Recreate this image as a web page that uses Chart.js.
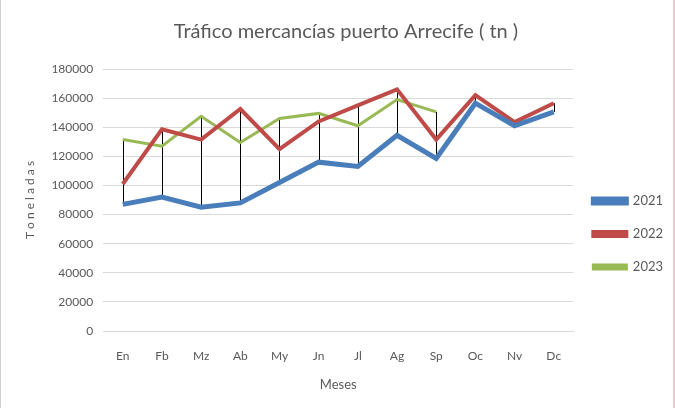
<!DOCTYPE html>
<html>
<head>
<meta charset="utf-8">
<script src="https://cdn.jsdelivr.net/npm/chart.js@4/dist/chart.umd.min.js"></script>
<style>
  html, body { margin: 0; padding: 0; background: #fff; }
  #wrap { position: relative; width: 675px; height: 408px; box-sizing: border-box;
          border-left: 1px solid #d0d0d0; border-right: 2px solid #e8c8c8; }
</style>
</head>
<body>
<div id="wrap"><canvas id="chart" width="672" height="408"></canvas></div>
<script>
var meses = ['En', 'Fb', 'Mz', 'Ab', 'My', 'Jn', 'Jl', 'Ag', 'Sp', 'Oc', 'Nv', 'Dc'];
var datos2021 = [87000, 92000, 85000, 88000, 102000, 116000, 113000, 134500, 118500, 156500, 141000, 150500];
var datos2022 = [101000, 138500, 131500, 152500, 125000, 144000, 155000, 166000, 131500, 162000, 143500, 156500];
var datos2023 = [131500, 127000, 147500, 129500, 146000, 149500, 141000, 159000, 150500, null, null, null];

var fontFam = "'Lato', sans-serif";
var gris = '#595959';

// lineas verticales max-min en cada mes (como en Excel)
var highLow = {
  id: 'highLow',
  beforeDatasetsDraw: function(chart) {
    var ctx = chart.ctx;
    var x = chart.scales.x, y = chart.scales.y;
    ctx.save();
    ctx.strokeStyle = '#000';
    ctx.lineWidth = 1;
    for (var i = 0; i < meses.length; i++) {
      var vals = chart.data.datasets.map(function(d) { return d.data[i]; })
        .filter(function(v) { return v !== null; });
      var px = Math.round(x.getPixelForValue(i)) + 0.5;
      ctx.beginPath();
      ctx.moveTo(px, y.getPixelForValue(Math.max.apply(null, vals)));
      ctx.lineTo(px, y.getPixelForValue(Math.min.apply(null, vals)));
      ctx.stroke();
    }
    ctx.restore();
  }
};

new Chart(document.getElementById('chart'), {
  type: 'line',
  data: {
    labels: meses,
    datasets: [
      { label: '2021', data: datos2021, borderColor: '#4a7ebb', backgroundColor: '#4a7ebb', borderWidth: 5, pointRadius: 0, tension: 0 },
      { label: '2022', data: datos2022, borderColor: '#be4b48', backgroundColor: '#be4b48', borderWidth: 4, pointRadius: 0, tension: 0 },
      { label: '2023', data: datos2023, borderColor: '#98b954', backgroundColor: '#98b954', borderWidth: 3, pointRadius: 0, tension: 0 }
    ]
  },
  options: {
    responsive: false,
    animation: false,
    layout: { padding: { left: 18, right: 0, top: 16, bottom: 11 } },
    plugins: {
      title: {
        display: true,
        text: 'Tráfico mercancías puerto Arrecife ( tn )',
        color: gris,
        font: { family: fontFam, size: 20, weight: 'normal' },
        padding: { top: 4, bottom: 25 }
      },
      legend: {
        position: 'right',
        title: { display: true, text: ' ', padding: { top: 27, bottom: 27 }, font: { size: 1 } },
        labels: {
          color: gris,
          font: { family: fontFam, size: 13 },
          boxWidth: 33,
          boxHeight: 4,
          padding: 20
        }
      },
      tooltip: { enabled: false }
    },
    scales: {
      x: {
        offset: true,
        grid: { display: false },
        border: { color: '#d9d9d9' },
        ticks: { color: gris, padding: 10, font: { family: fontFam, size: 12 } },
        title: { display: true, text: 'Meses', color: gris, padding: { top: 4, bottom: 4 }, font: { family: fontFam, size: 13 } }
      },
      y: {
        min: 0,
        max: 180000,
        ticks: {
          stepSize: 20000,
          color: gris,
          padding: 10,
          font: { family: fontFam, size: 12 },
          callback: function(v) { return String(v); }
        },
        grid: { color: '#d9d9d9', drawTicks: false },
        border: { display: false },
        title: { display: true, text: 'T o n e l a d a s', color: gris, font: { family: fontFam, size: 12 } }
      }
    }
  },
  plugins: [highLow]
});
</script>
</body>
</html>
